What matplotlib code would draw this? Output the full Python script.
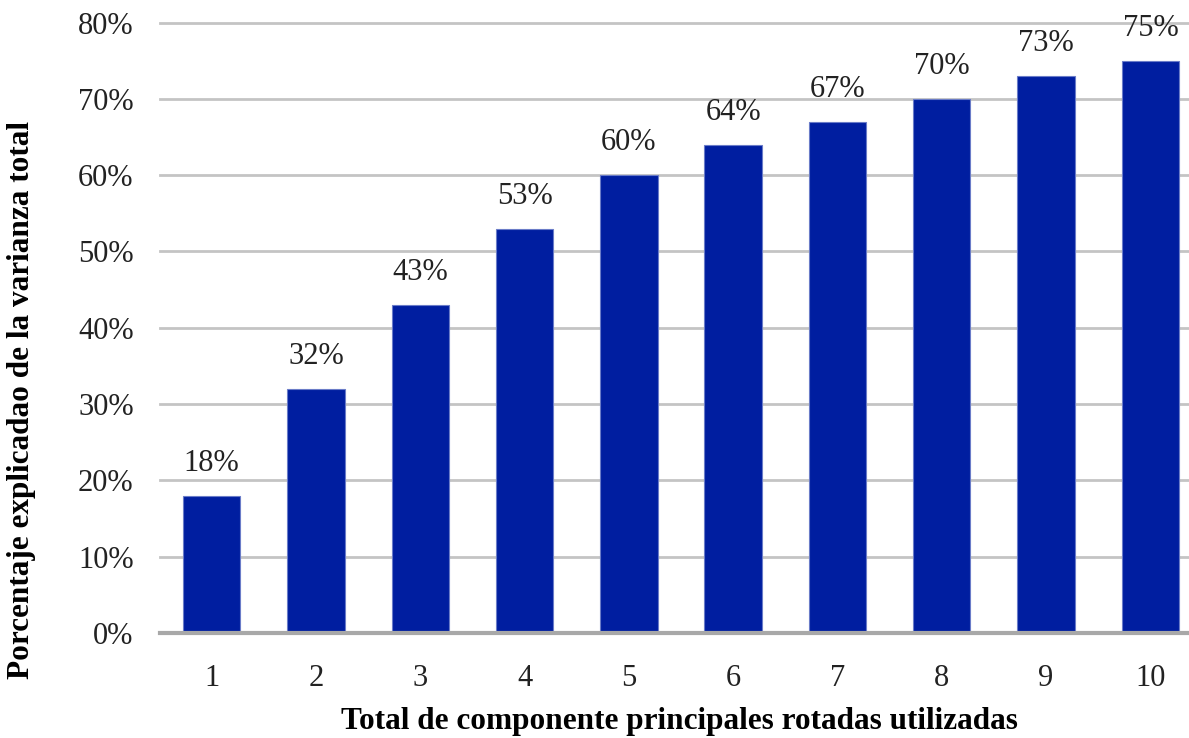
import matplotlib
matplotlib.use('Agg')
import matplotlib.pyplot as plt

componentes = ['1', '2', '3', '4', '5', '6', '7', '8', '9', '10']
porcentaje = [18, 32, 43, 53, 60, 64, 67, 70, 73, 75]
yticks = [0, 10, 20, 30, 40, 50, 60, 70, 80]

plt.rcParams['font.family'] = ['Liberation Serif', 'DejaVu Serif']

fig = plt.figure(figsize=(11.89, 7.38), dpi=100)
ax = fig.add_axes([0.1346, 0.1423, 0.8654, 0.8292])

x = list(range(1, len(componentes) + 1))
bars = ax.bar(x, porcentaje, width=0.55, color='#001ea0', edgecolor='#6a7cc8',
              linewidth=0.8, zorder=3)

for xi, v in zip(x, porcentaje):
    ax.annotate(f'{v}%', (xi, v), xytext=(0, 18), textcoords='offset points',
                ha='center', va='baseline', fontsize=22, color='#222222',
                annotation_clip=False)

ax.set_xlim(0.506, 10.37)
ax.set_ylim(0, 80.2)
ax.set_yticks(yticks)
ax.set_yticklabels([f'{t}%' for t in yticks])
ax.set_xticks(x)
ax.set_xticklabels(componentes)

for t in yticks[1:]:
    ax.axhline(t, color='#c4c4c4', linewidth=2, zorder=1, clip_on=False)
ax.axhline(0, color='#a8a8a8', linewidth=3, zorder=4, clip_on=False)

for s in ax.spines.values():
    s.set_visible(False)
ax.tick_params(length=0, labelsize=22, colors='#222222')
ax.tick_params(axis='x', pad=22)
ax.tick_params(axis='y', pad=19)

ax.set_xlabel('Total de componente principales rotadas utilizadas',
              fontsize=22.5, fontweight='bold')
ax.xaxis.set_label_coords(0.505, -0.121)
ax.set_ylabel('Porcentaje explicadao de la varianza total',
              fontsize=22.5, fontweight='bold')
ax.yaxis.set_label_coords(-0.121, 0.38)

fig.savefig('out.png', dpi=100)
